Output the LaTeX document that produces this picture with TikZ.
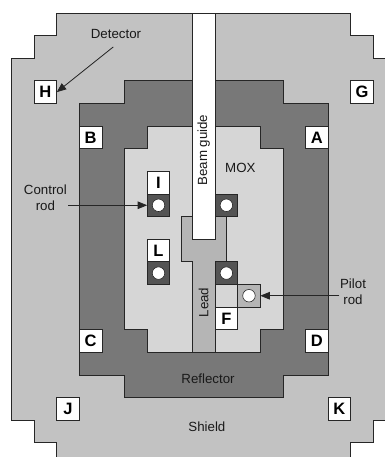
\documentclass[tikz,border=0pt]{standalone}
\usepackage{fontspec}
\setmainfont{Liberation Sans}
\usetikzlibrary{arrows.meta}
\definecolor{shieldgray}{gray}{0.76}
\definecolor{reflectorgray}{gray}{0.47}
\definecolor{moxgray}{gray}{0.84}
\definecolor{leadgray}{gray}{0.71}
\definecolor{rodgray}{gray}{0.33}
\definecolor{linegray}{gray}{0.15}
\tikzset{
	region/.style = {draw = linegray, line width = 0.8pt, line join = miter},
	tag/.style = {draw = linegray, fill = white, line width = 0.8pt, inner sep = 0pt, outer sep = 0pt, minimum size = 22.62pt, font = \fontsize{16.5}{16.5}\selectfont\bfseries},
	rod/.style = {tag, fill = rodgray},
	hole/.style = {circle, draw = linegray, fill = white, line width = 0.6pt, inner sep = 0pt, minimum size = 12.5pt},
	caption/.style = {inner sep = 0pt, align = center, text = black!90, font = \fontsize{13.3}{16}\selectfont},
	pointer/.style = {-{Triangle[length = 9.5pt, width = 7.5pt]}, line width = 0.8pt, draw = linegray}
}

\begin{document}
\begin{tikzpicture} [x = 22.62pt, y = -22.62pt]
	\useasboundingbox (-0.508,-0.575) rectangle (16.512,19.63);

	% shield, reflector and core
	\draw [region, fill = shieldgray] (2,0) -- (14.99,0) -- (14.99,1) -- (16,1) -- (16,2) -- (17,2) -- (17,18) -- (16,18) -- (16,19) -- (15,19) -- (15,20) -- (2,20) -- (2,19) -- (1,19) -- (1,18) -- (0,18) -- (0,2) -- (1,2) -- (1,1) -- (2,1) -- cycle;
	\draw [region, fill = reflectorgray] (5,3) -- (12,3) -- (12,4) -- (14,4) -- (14,16) -- (12,16) -- (12,17) -- (5,17) -- (5,16) -- (3,16) -- (3,4) -- (5,4) -- cycle;
	\draw [region, fill = moxgray] (6,5) -- (11,5) -- (11,6) -- (12,6) -- (12,14) -- (11,14) -- (11,15) -- (6,15) -- (6,14) -- (5,14) -- (5,6) -- (6,6) -- cycle;
	\draw [region, fill = leadgray] (7.5,9) -- (9.5,9) -- (9.5,11) -- (9,11) -- (9,15) -- (8,15) -- (8,11) -- (7.5,11) -- cycle;
	\draw [region, fill = white] (8,0) rectangle (9,10);

	% letters
	\node [tag] (H) at (1.5,3.5) {H};
	\node [tag] (G) at (15.5,3.5) {G};
	\node [tag] (B) at (3.5,5.5) {B};
	\node [tag] (A) at (13.5,5.5) {A};
	\node [tag] (C) at (3.5,14.5) {C};
	\node [tag] (D) at (13.5,14.5) {D};
	\node [tag] (J) at (2.5,17.5) {J};
	\node [tag] (K) at (14.5,17.5) {K};
	\node [tag] (I) at (6.5,7.5) {I};
	\node [tag] (L) at (6.5,10.5) {L};
	\node [tag] (F) at (9.5,13.5) {F};

	% rods
	\node [rod] (rodI) at (6.5,8.5) {};
	\node [rod] (rodL) at (6.5,11.5) {};
	\node [rod] (rodtop) at (9.5,8.5) {};
	\node [rod] (rodlow) at (9.5,11.5) {};
	\node [rod, fill = moxgray] (cell) at (9.5,12.5) {};
	\node [rod, fill = leadgray] (pilot) at (10.5,12.5) {};
	\node [hole] (holeI) at (rodI) {};
	\node [hole] (holeL) at (rodL) {};
	\node [hole] (holetop) at (rodtop) {};
	\node [hole] (holelow) at (rodlow) {};
	\node [hole] (holepilot) at (pilot) {};

	% captions
	\node [caption] (detector) at (4.62,0.93) {Detector};
	\node [caption] (control) at (1.5,8.18) {Control\\rod};
	\node [caption] (pilotrod) at (15.1,12.33) {Pilot\\rod};
	\node [caption] (mox) at (10.12,6.85) {MOX};
	\node [caption, rotate = 90] (beam) at (8.5,6.06) {Beam guide};
	\node [caption, rotate = 90] (lead) at (8.5,12.8) {Lead};
	\node [caption] (reflector) at (8.69,16.15) {Reflector};
	\node [caption] (shield) at (8.64,18.3) {Shield};

	% pointers
	\coordinate (detectorend) at (4.5,1.5);
	\coordinate (controlend) at (2.5,8.5);
	\coordinate (pilotend) at (14.5,12.5);
	\draw [pointer] (detectorend) -- (H.east);
	\draw [pointer] (controlend) -- (rodI.west);
	\draw [pointer] (pilotend) -- (pilot.east);
\end{tikzpicture}
\end{document}
